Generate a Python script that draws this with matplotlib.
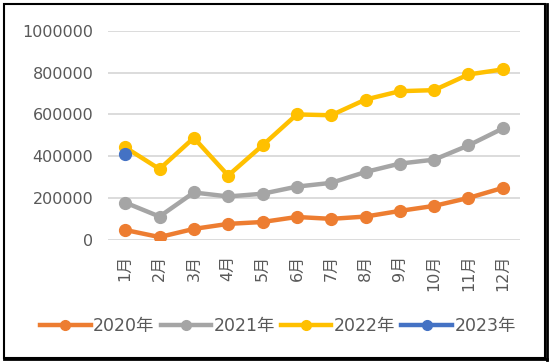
import matplotlib.pyplot as plt
from matplotlib.patches import Rectangle
from matplotlib.lines import Line2D

# DejaVu for the (wide) digits, Noto CJK for 月 / 年
plt.rcParams['font.family'] = ['DejaVu Sans', 'Noto Sans CJK SC']

months = ["1月", "2月", "3月", "4月", "5月", "6月", "7月", "8月", "9月", "10月", "11月", "12月"]
y2020 = [48000, 14000, 53000, 77000, 86000, 110000, 101000, 112000, 139000, 163000, 201000, 249000]
y2021 = [179000, 112000, 227000, 208000, 221000, 255000, 273000, 325000, 365000, 384000, 452000, 533000]
y2022 = [443000, 339000, 488000, 308000, 452000, 600000, 596000, 671000, 711000, 716000, 791000, 815000]
y2023 = [411000]
yticks = [0, 200000, 400000, 600000, 800000, 1000000]

series = [
    ("2020年", y2020, "#ED7D31"),
    ("2021年", y2021, "#A5A5A5"),
    ("2022年", y2022, "#FFC000"),
    ("2023年", y2023, "#4472C4"),
]

W, H = 550, 362
fig = plt.figure(figsize=(W / 100, H / 100), dpi=100)
ax = fig.add_axes([108 / W, 1 - 240 / H, (520 - 108) / W, (240 - 30.7) / H])

x = list(range(len(months)))
handles = []
for label, vals, color in series:
    ax.plot(x[:len(vals)], vals, color=color, lw=3.2, marker="o", ms=8.5,
            solid_capstyle="round", zorder=3)
    handles.append(Line2D([], [], color=color, lw=3.2, marker="o", ms=7, label=label))

ax.set_xlim(-0.5, len(months) - 0.5)
ax.set_ylim(0, 1000000)
ax.set_yticks(yticks)
ax.set_yticklabels([str(v) for v in yticks])
ax.set_xticks(x)
ax.set_xticklabels(months, rotation=90)
ax.grid(axis="y", color="#D9D9D9", lw=1.3, zorder=0)
ax.tick_params(axis="both", length=0, labelsize=11.5, colors="#595959")
ax.tick_params(axis="y", pad=10.5)
ax.tick_params(axis="x", pad=10.5)
for s in ax.spines.values():
    s.set_visible(False)

fig.legend(handles=handles, loc="center", bbox_to_anchor=(278 / W, 1 - 326 / H),
           ncol=4, frameon=False, fontsize=12.5, labelcolor="#595959",
           handlelength=2.9, handletextpad=0.15, columnspacing=0.35,
           borderaxespad=0)

# outer chart border
fig.add_artist(Rectangle((3.5 / W, 1 - 358 / H), (545 - 3.5) / W, (358 - 3.5) / H,
                         transform=fig.transFigure, fill=False, ec="black", lw=1.5))
fig.add_artist(Line2D([546.5 / W, 546.5 / W], [1 - 359.5 / H, 1 - 4 / H],
                      transform=fig.transFigure, color="black", lw=2))
fig.add_artist(Line2D([4 / W, 546.5 / W], [1 - 359 / H, 1 - 359 / H],
                      transform=fig.transFigure, color="black", lw=2))

fig.savefig("out.png", dpi=100)
